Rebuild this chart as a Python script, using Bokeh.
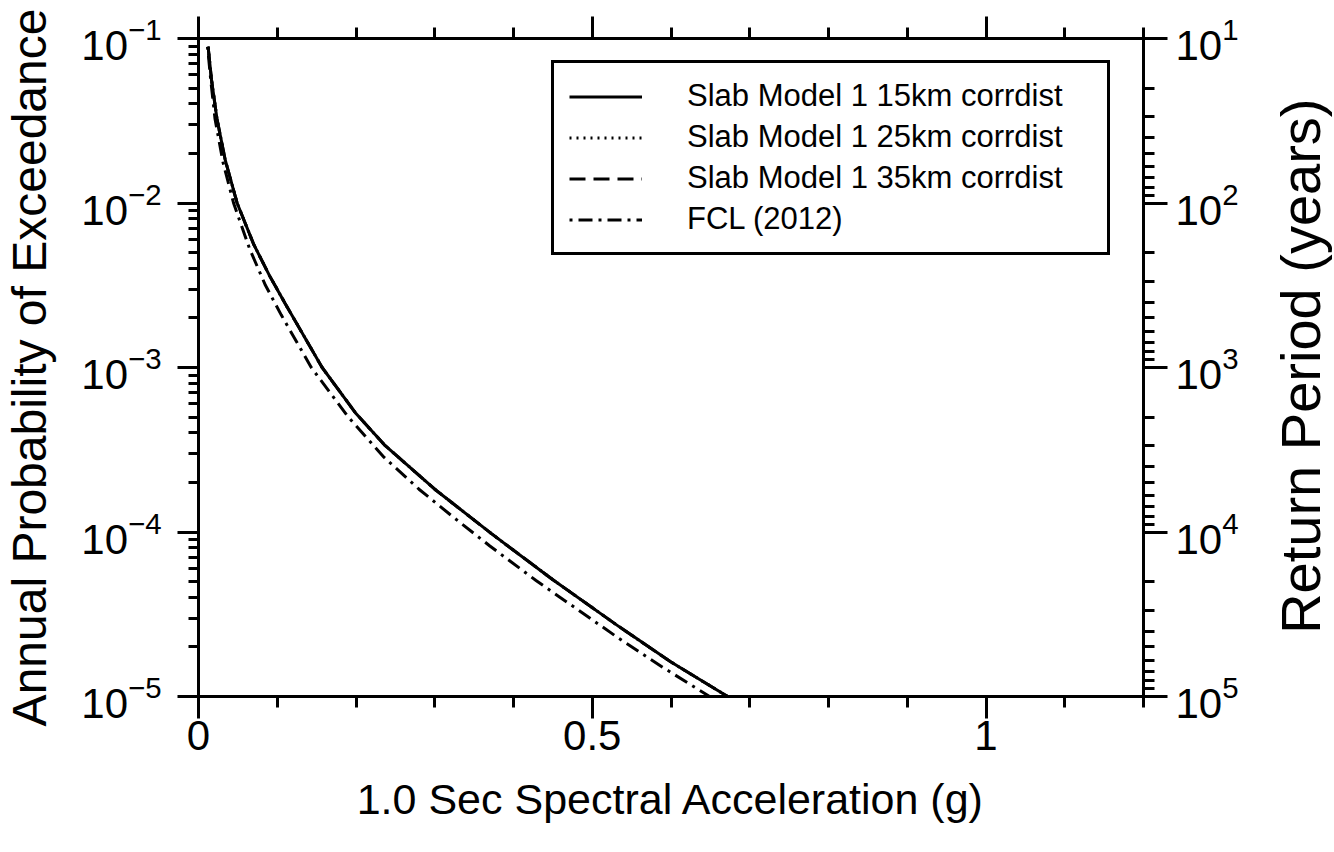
import math
from bokeh.plotting import figure
from bokeh.layouts import row
from bokeh.models import (Range1d, LogScale, LogAxis, LinearAxis, LogTicker, FixedTicker,
                          LogTickFormatter, CustomJSTickFormatter)
from bokeh.core.properties import value
from bokeh.embed import file_html
from bokeh.resources import INLINE

# ---------------- data ----------------
sa_slab15 = [0.0122, 0.0165, 0.0235, 0.034, 0.049, 0.07, 0.09, 0.11, 0.157, 0.2,
             0.236, 0.3, 0.372, 0.45, 0.534, 0.6, 0.672]
poe_slab15 = [8.91e-2, 5.62e-2, 3.24e-2, 1.82e-2, 1.00e-2, 5.62e-3, 3.63e-3, 2.45e-3,
              1.00e-3, 5.25e-4, 3.39e-4, 1.82e-4, 9.77e-5, 5.13e-5, 2.66e-5, 1.62e-5,
              1.0e-5]

sa_slab25 = [0.0122, 0.0165, 0.0235, 0.034, 0.049, 0.07, 0.09, 0.11, 0.157, 0.2,
             0.236, 0.3, 0.372, 0.45, 0.534, 0.6, 0.672]
poe_slab25 = [8.91e-2, 5.62e-2, 3.24e-2, 1.82e-2, 1.00e-2, 5.62e-3, 3.63e-3, 2.45e-3,
              1.00e-3, 5.25e-4, 3.39e-4, 1.82e-4, 9.77e-5, 5.13e-5, 2.66e-5, 1.62e-5,
              1.0e-5]

sa_slab35 = [0.0122, 0.0165, 0.0235, 0.034, 0.049, 0.07, 0.09, 0.11, 0.157, 0.2,
             0.236, 0.3, 0.372, 0.45, 0.534, 0.6, 0.672]
poe_slab35 = [8.91e-2, 5.62e-2, 3.24e-2, 1.82e-2, 1.00e-2, 5.62e-3, 3.63e-3, 2.45e-3,
              1.00e-3, 5.25e-4, 3.39e-4, 1.82e-4, 9.77e-5, 5.13e-5, 2.66e-5, 1.62e-5,
              1.0e-5]

sa_fcl = [0.0115, 0.0155, 0.021, 0.031, 0.0445, 0.065, 0.085, 0.105, 0.1432, 0.19,
          0.2355, 0.28, 0.3237, 0.37, 0.4286, 0.5336, 0.59, 0.649]
poe_fcl = [8.91e-2, 5.62e-2, 3.24e-2, 1.78e-2, 1.00e-2, 5.25e-3, 3.16e-3, 2.09e-3,
           1.00e-3, 5.01e-4, 2.85e-4, 1.82e-4, 1.23e-4, 8.22e-5, 5.07e-5, 2.26e-5,
           1.50e-5, 1.0e-5]

series_labels = ["Slab Model 1 15km corrdist", "Slab Model 1 25km corrdist",
                 "Slab Model 1 35km corrdist", "FCL (2012)"]

x_major_ticks = [0, 0.5, 1.0]
x_major_labels = ["0", "0.5", "1"]
x_minor_ticks = [0.1, 0.2, 0.3, 0.4, 0.6, 0.7, 0.8, 0.9, 1.1, 1.2]

x_limits = (0, 1.2)
poe_limits = (1e-5, 1e-1)
rp_limits = (1e5, 1e1)   # return period = 1 / annual probability

x_title = "1.0 Sec Spectral Acceleration (g)"
y_title = "Annual Probability of Exceedance"
y2_title = "Return Period (years)"

# ---------------- styling ----------------
FONT = "Liberation Sans"
TICK_FS = "42px"
LEFT_TITLE_FS = "48px"
RIGHT_TITLE_FS = "56px"
BOTTOM_TITLE_FS = "43px"
LW = 3
MAIN_W = 1255
TOTAL_W = 1334
H = 852

p = figure(width=MAIN_W, height=H, output_backend="svg", toolbar_location=None,
           x_range=Range1d(*x_limits), y_range=Range1d(*poe_limits),
           y_axis_type="log", x_axis_type="linear")
p.min_border_left = 193
p.min_border_right = MAIN_W - 1143
p.min_border_top = 38
p.min_border_bottom = 156
p.xgrid.visible = False
p.ygrid.visible = False
p.outline_line_color = "black"
p.outline_line_width = LW
p.background_fill_color = "white"
p.border_fill_color = "white"

p.extra_y_ranges = {"rp": Range1d(*rp_limits)}
p.extra_y_scales = {"rp": LogScale()}


def style_axis(ax, major_out, minor_out):
    ax.axis_line_width = LW
    ax.axis_line_color = "black"
    ax.major_tick_line_width = LW
    ax.minor_tick_line_width = LW
    ax.major_tick_line_color = "black"
    ax.minor_tick_line_color = "black"
    ax.major_tick_in = 0
    ax.major_tick_out = major_out
    ax.minor_tick_in = 0
    ax.minor_tick_out = minor_out
    ax.major_label_text_font = FONT
    ax.major_label_text_font_size = TICK_FS
    ax.major_label_text_color = "black"
    ax.axis_label_text_font = FONT
    ax.axis_label_text_font_style = "normal"
    ax.axis_label_text_color = "black"


# bottom axis
xb = p.xaxis[0]
xb.ticker = FixedTicker(ticks=x_major_ticks, minor_ticks=x_minor_ticks)
xb.major_label_overrides = {t: l for t, l in zip(x_major_ticks, x_major_labels)}
style_axis(xb, 22, 11)
xb.axis_label = x_title
xb.axis_label_text_font_size = BOTTOM_TITLE_FS
xb.major_label_standoff = 2
xb.axis_label_standoff = 22

# left axis
yl = p.yaxis[0]
yl.ticker = LogTicker(num_minor_ticks=10)
yl.formatter = LogTickFormatter()
style_axis(yl, 21, 10)
yl.axis_label = y_title
yl.axis_label_text_font_size = LEFT_TITLE_FS
yl.major_label_standoff = 16
yl.axis_label_standoff = 22

# top axis (ticks only)
xt = LinearAxis(ticker=FixedTicker(ticks=x_major_ticks, minor_ticks=x_minor_ticks),
                formatter=CustomJSTickFormatter(code="return ''"))
style_axis(xt, 22, 11)
xt.major_label_text_font_size = "1px"
xt.major_label_standoff = 0
p.add_layout(xt, "above")

# right axis (return period)
yr = LogAxis(y_range_name="rp", ticker=LogTicker(num_minor_ticks=10),
             formatter=LogTickFormatter())
style_axis(yr, 24, 11)
yr.major_label_standoff = 8
p.add_layout(yr, "right")

# ---------------- curves ----------------
p.line(sa_slab15, poe_slab15, line_color="black", line_width=LW,
       legend_label=series_labels[0])
p.line(sa_slab25, poe_slab25, line_color="black", line_width=LW, line_dash="2 5",
       legend_label=series_labels[1])
p.line(sa_slab35, poe_slab35, line_color="black", line_width=LW, line_dash="16 8",
       legend_label=series_labels[2])
p.line(sa_fcl, poe_fcl, line_color="black", line_width=LW, line_dash="3 6 14 6",
       legend_label=series_labels[3])

leg = p.legend[0]
leg.location = (353, 441)
leg.label_text_font = FONT
leg.label_text_font_size = "31px"
leg.label_text_color = "black"
leg.glyph_width = 73
leg.glyph_height = 35
leg.label_height = 35
leg.label_width = 405
leg.spacing = 5
leg.padding = 15
leg.margin = 0
leg.label_standoff = 45
leg.border_line_color = "black"
leg.border_line_alpha = 1.0
leg.border_line_width = 3
leg.background_fill_color = "white"
leg.background_fill_alpha = 1.0

# ---------------- right-hand title strip (reads bottom-to-top) ----------------
p2 = figure(width=TOTAL_W - MAIN_W, height=H, output_backend="svg", toolbar_location=None,
            x_range=Range1d(0, 1), y_range=Range1d(0, 1),
            x_axis_type=None, y_axis_type=None, min_border=0)
p2.outline_line_color = None
p2.xgrid.visible = False
p2.ygrid.visible = False
p2.background_fill_color = "white"
p2.border_fill_color = "white"
p2.text(x=[0.57], y=[0.502], text=[y2_title], angle=math.pi / 2,
        text_align="center", text_baseline="middle",
        text_font=value(FONT), text_font_size=value(RIGHT_TITLE_FS), text_color="black")

layout = row(p, p2, spacing=0)
open("out.html", "w").write(file_html(layout, INLINE))
